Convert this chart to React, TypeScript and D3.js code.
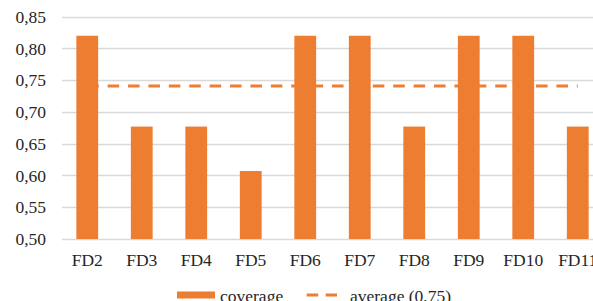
import React, { useEffect, useRef } from 'react';
import * as d3 from 'd3';

const categories = ['FD2', 'FD3', 'FD4', 'FD5', 'FD6', 'FD7', 'FD8', 'FD9', 'FD10', 'FD11'];
const coverage = [0.82, 0.677, 0.677, 0.607, 0.82, 0.82, 0.677, 0.82, 0.82, 0.677];
const averageValue = 0.741;
const yTicks = [0.5, 0.55, 0.6, 0.65, 0.7, 0.75, 0.8, 0.85];

const App = () => {
  const ref = useRef<SVGSVGElement>(null);

  useEffect(() => {
    const svg = d3.select(ref.current);
    svg.selectAll('*').remove();

    const width = 593;
    const height = 301;
    const font = '"Liberation Serif", "Times New Roman", serif';
    const orange = '#ed7d31';

    const x = d3.scaleBand()
      .domain(categories)
      .range([60, 605])
      .paddingInner(0.6)
      .paddingOuter(0.3);

    const y = d3.scaleLinear()
      .domain([0.5, 0.85])
      .range([239, 16.7]);

    // gridlines
    svg.append('g')
      .selectAll('line')
      .data(yTicks)
      .enter()
      .append('line')
      .attr('x1', 62)
      .attr('x2', width)
      .attr('y1', d => Math.round(y(d)) + 0.5)
      .attr('y2', d => Math.round(y(d)) + 0.5)
      .attr('stroke', '#d9d9d9')
      .attr('stroke-width', 1.3);

    // y labels
    svg.append('g')
      .selectAll('text')
      .data(yTicks)
      .enter()
      .append('text')
      .attr('x', 46)
      .attr('y', d => y(d))
      .attr('dy', '0.35em')
      .attr('text-anchor', 'end')
      .attr('font-family', font)
      .attr('font-size', '17.5px')
      .attr('fill', '#262626')
      .text(d => d.toFixed(2).replace('.', ','));

    // average line (behind bars)
    const line = d3.line<string>()
      .x(d => (x(d) as number) + x.bandwidth() / 2)
      .y(() => y(averageValue));

    svg.append('path')
      .datum(categories)
      .attr('fill', 'none')
      .attr('stroke', orange)
      .attr('stroke-width', 3)
      .attr('stroke-dasharray', '11.5,8.9')
      .attr('d', line);

    // bars
    svg.append('g')
      .selectAll('rect')
      .data(coverage)
      .enter()
      .append('rect')
      .attr('x', (d, i) => x(categories[i]) as number)
      .attr('y', d => y(d))
      .attr('width', x.bandwidth())
      .attr('height', d => y(0.5) - y(d))
      .attr('fill', orange);

    // x labels
    svg.append('g')
      .selectAll('text')
      .data(categories)
      .enter()
      .append('text')
      .attr('x', d => (x(d) as number) + x.bandwidth() / 2)
      .attr('y', 266)
      .attr('text-anchor', 'middle')
      .attr('font-family', font)
      .attr('font-size', '17.5px')
      .attr('fill', '#262626')
      .text(d => d);

    // legend
    const lg = svg.append('g');
    lg.append('rect')
      .attr('x', 177)
      .attr('y', 291.5)
      .attr('width', 38)
      .attr('height', 7)
      .attr('fill', orange);
    lg.append('text')
      .attr('x', 220)
      .attr('y', 302)
      .attr('font-family', font)
      .attr('font-size', '17.5px')
      .attr('fill', '#262626')
      .text('coverage');
    lg.append('line')
      .attr('x1', 306.7)
      .attr('x2', 337)
      .attr('y1', 295)
      .attr('y2', 295)
      .attr('stroke', orange)
      .attr('stroke-width', 3)
      .attr('stroke-dasharray', '11.5,7.5');
    lg.append('text')
      .attr('x', 350)
      .attr('y', 302)
      .attr('font-family', font)
      .attr('font-size', '17.5px')
      .attr('fill', '#262626')
      .text('average (0,75)');

    svg.attr('width', width).attr('height', height);
  }, []);

  return (
    <svg
      ref={ref}
      width={593}
      height={301}
      style={{ position: 'absolute', left: 0, top: 0, background: '#fff' }}
    />
  );
};

export default App;
